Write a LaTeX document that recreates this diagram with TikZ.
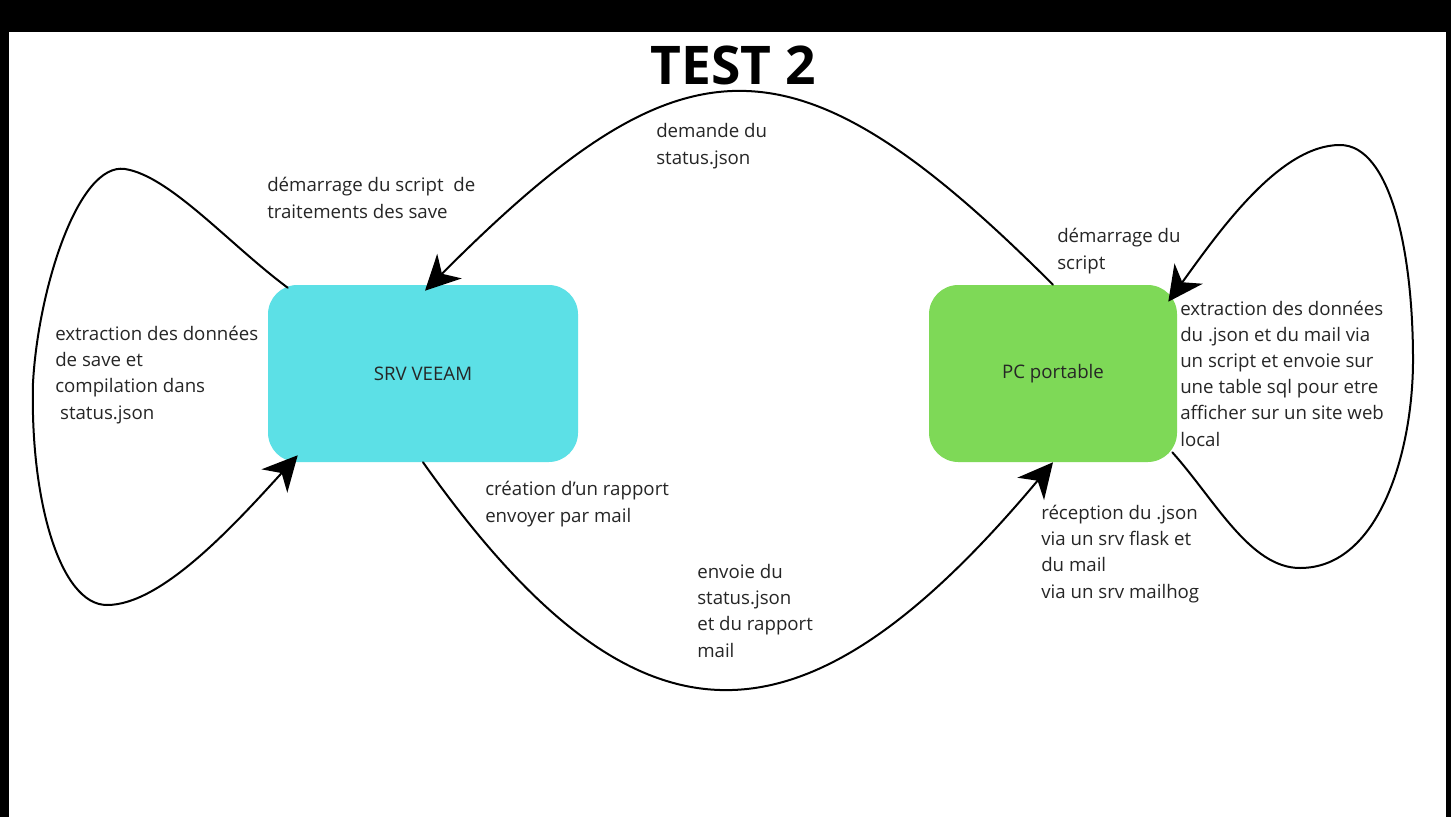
\documentclass[tikz,border=0pt]{standalone}
\usepackage{fontspec}
\setmainfont{Open Sans}
\usetikzlibrary{arrows.meta,calc}
\definecolor{veeam}{HTML}{5CE0E6}
\definecolor{pcgreen}{HTML}{7ED957}
\definecolor{txt}{HTML}{262626}
\begin{document}
\begin{tikzpicture}[x=0.75pt,y=-0.75pt,
  box/.style={rounded corners=22pt, inner sep=0pt, minimum height=132.75pt,
    font=\fontsize{14}{19.6}\selectfont, text=txt},
  lbl/.style={anchor=base west, align=left, inner sep=0pt,
    font=\fontsize{14}{19.6}\selectfont, text=txt},
  flow/.style={line width=1.5pt, line cap=round,
    -{Stealth[length=26pt,width=26pt,inset=8pt]}}]
\fill[black] (0,0) rectangle (1451,817);
\fill[white] (9,32) rectangle (1446,817);
\useasboundingbox (0,0) rectangle (1451,817);

\node[font=\fontsize{40}{48}\selectfont\bfseries, inner sep=0pt] (title) at (733,65) {TEST 2};

\node[box, fill=veeam, minimum width=232.5pt] (srv) at (423,373.5) {SRV VEEAM};
\node[box, fill=pcgreen, minimum width=186pt] (pc) at (1053,373.5) {PC portable};

% anchor = baseline of the last line
\node[lbl] (l1) at (267,218) {démarrage du script\ \ de\\traitements des save};
\node[lbl] (l2) at (656,164) {demande du\\status.json};
\node[lbl] (l3) at (1057,269) {démarrage du\\script};
\node[lbl] (l4) at (1180,446) {extraction des données\\du .json et du mail via\\un script et envoie sur\\une table sql pour etre\\afficher sur un site web\\local};
\node[lbl] (l5) at (55,419) {extraction des données\\de save et\\compilation dans\\\ status.json};
\node[lbl] (l6) at (485,522) {création d’un rapport\\envoyer par mail};
\node[lbl] (l7) at (697,657) {envoie du\\status.json\\et du rapport\\mail};
\node[lbl] (l8) at (1041,598) {réception du .json\\via un srv flask et\\du mail\\via un srv mailhog};

% PC -> SRV (top arc)
\draw[flow] (pc.north) .. controls (793,25) and (684,31) .. ($(srv.north)+(2,6)$);
% SRV -> PC (bottom arc)
\draw[flow] (srv.south) .. controls (636,763) and (801,763) .. (pc.south);
% SRV self loop
\draw[flow] ($(srv.north west)+(20,3)$) .. controls (230,245) and (170,176) .. (125,169)
  .. controls (78,162) and (38,290) .. (33,383)
  .. controls (30,500) and (60,605) .. (107,605)
  .. controls (160,605) and (230,530) .. ($(srv.south west)+(30,-7)$);
% PC self loop
\draw[flow] ($(pc.south east)+(-5,-10)$) .. controls (1215,500) and (1250,568) .. (1300,568)
  .. controls (1380,568) and (1413,450) .. (1413,360)
  .. controls (1413,250) and (1390,145) .. (1340,145)
  .. controls (1280,145) and (1220,230) .. ($(pc.north east)+(-9,17)$);
\end{tikzpicture}
\end{document}
